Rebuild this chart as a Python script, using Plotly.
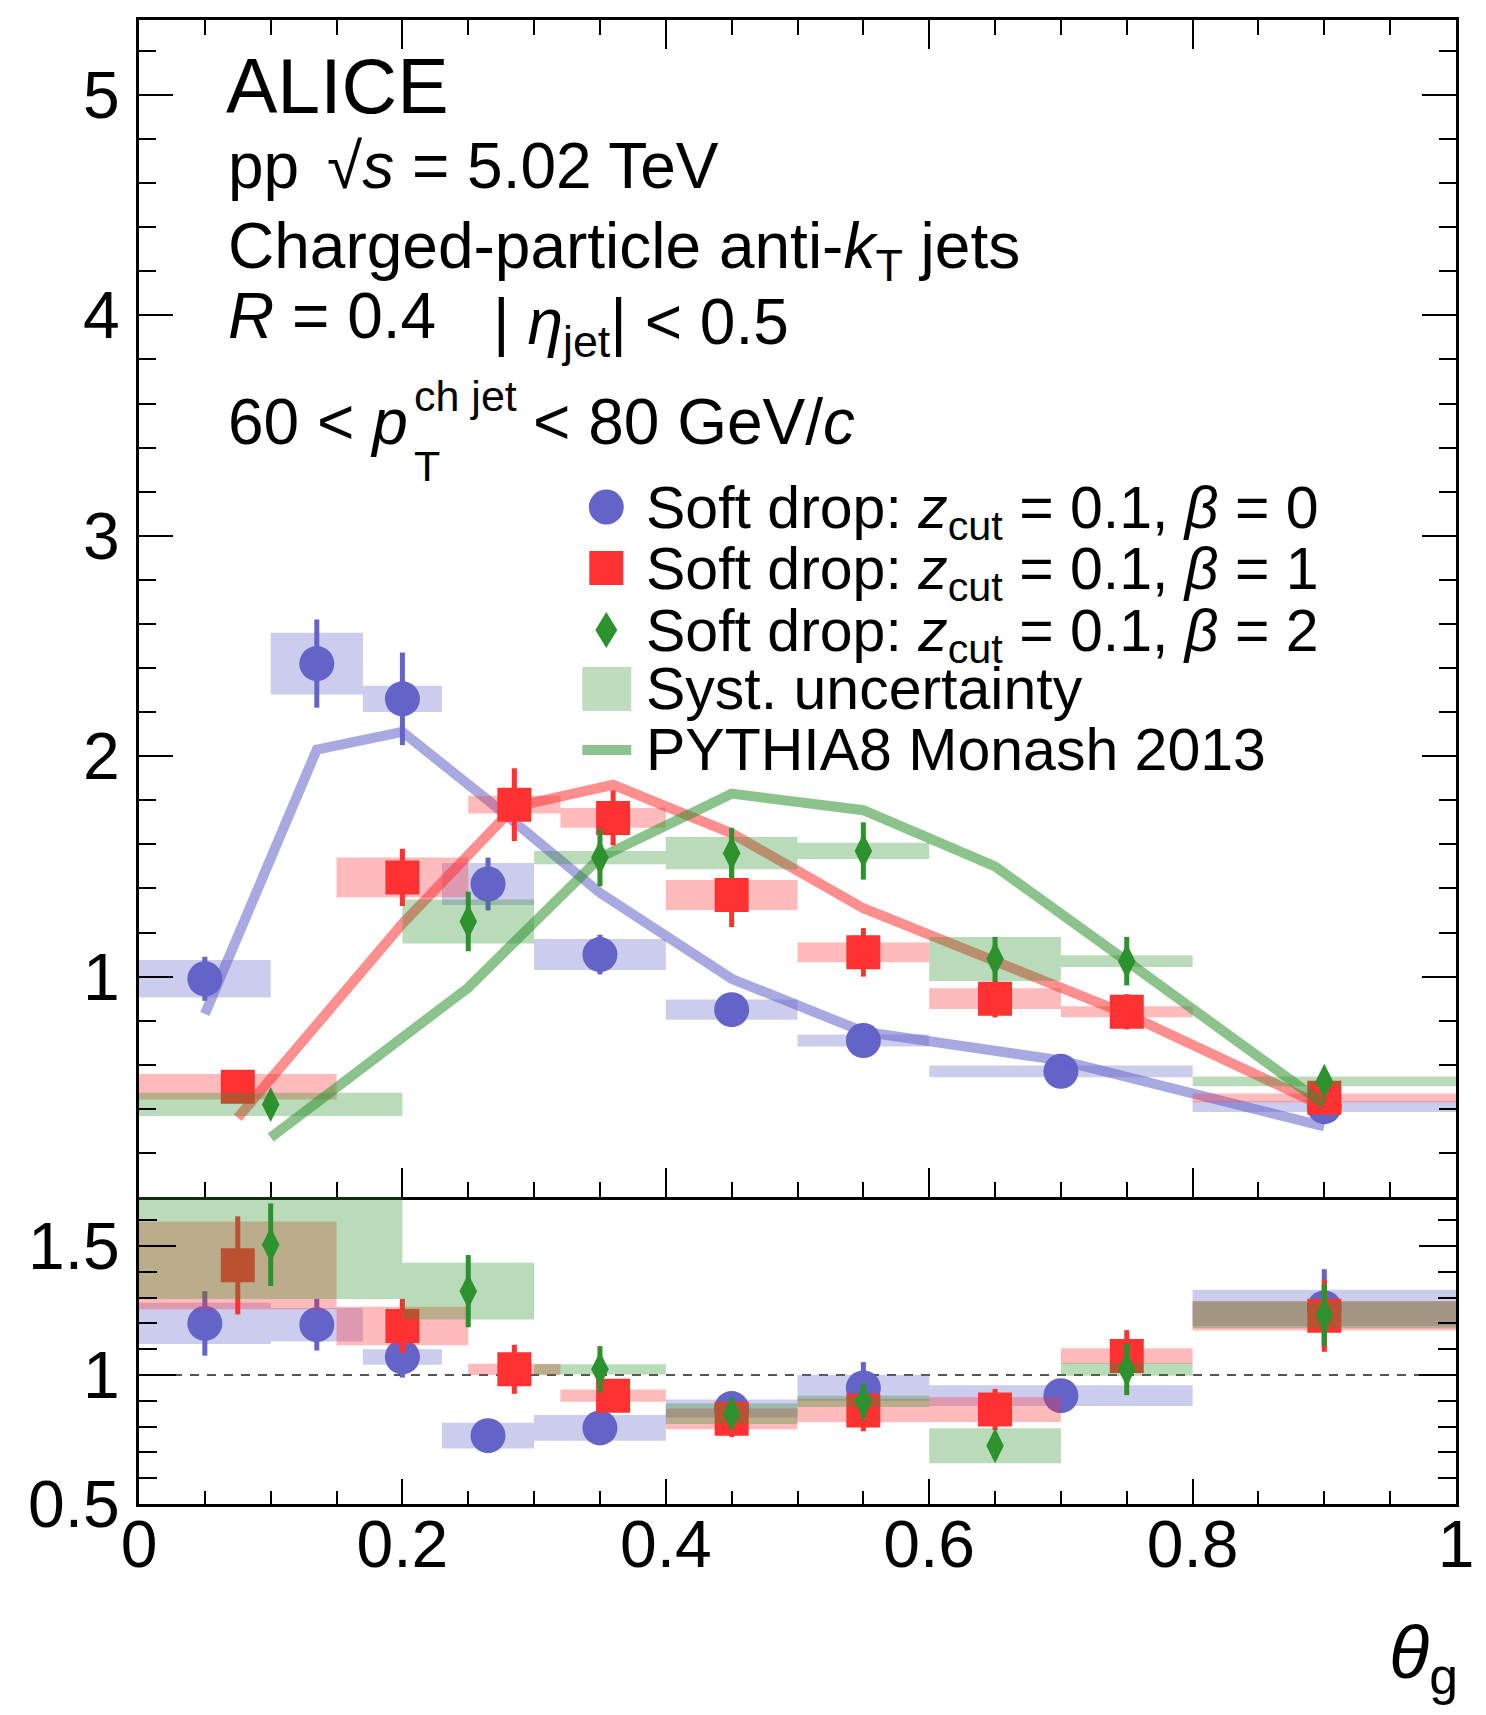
import plotly.graph_objects as go

# ---------------- data ----------------
# beta = 0 (blue)
b0_edges = [0.0, 0.1, 0.17, 0.23, 0.3, 0.4, 0.5, 0.6, 0.8, 1.0]
b0_vals = [0.99, 2.42, 2.26, 1.42, 1.10, 0.85, 0.71, 0.57, 0.41]
b0_stat = [0.10, 0.20, 0.21, 0.12, 0.09, 0.03, 0.03, 0.03, 0.03]
b0_syst = [0.085, 0.14, 0.06, 0.095, 0.07, 0.046, 0.027, 0.027, 0.024]
b0_pythia = [0.83, 2.03, 2.11, 1.80, 1.38, 0.99, 0.75, 0.62, 0.32]
b0_ratio = [1.20, 1.195, 1.07, 0.765, 0.795, 0.87, 0.95, 0.92, 1.26]
b0_ratio_stat = [0.125, 0.10, 0.08, 0.03, 0.03, 0.04, 0.10, 0.05, 0.15]
b0_ratio_syst = [0.08, 0.065, 0.03, 0.05, 0.05, 0.035, 0.05, 0.04, 0.07]

# beta = 1 (red)
b1_edges = [0.0, 0.15, 0.25, 0.32, 0.4, 0.5, 0.6, 0.7, 0.8, 1.0]
b1_vals = [0.50, 1.45, 1.78, 1.72, 1.37, 1.11, 0.90, 0.84, 0.45]
b1_stat = [0.05, 0.13, 0.165, 0.125, 0.145, 0.11, 0.085, 0.08, 0.03]
b1_syst = [0.058, 0.09, 0.04, 0.045, 0.068, 0.045, 0.047, 0.025, 0.02]
b1_pythia = [0.36, 1.24, 1.77, 1.87, 1.65, 1.31, 1.07, 0.83, 0.41]
b1_ratio = [1.425, 1.19, 1.022, 0.92, 0.83, 0.862, 0.866, 1.074, 1.23]
b1_ratio_stat = [0.19, 0.105, 0.095, 0.05, 0.07, 0.08, 0.08, 0.10, 0.14]
b1_ratio_syst = [0.17, 0.075, 0.022, 0.024, 0.04, 0.045, 0.048, 0.03, 0.057]

# beta = 2 (green)
b2_edges = [0.0, 0.2, 0.3, 0.4, 0.5, 0.6, 0.7, 0.8, 1.0]
b2_vals = [0.42, 1.25, 1.54, 1.56, 1.57, 1.08, 1.07, 0.525]
b2_stat = [0.03, 0.135, 0.13, 0.115, 0.13, 0.10, 0.11, 0.03]
b2_syst = [0.053, 0.10, 0.03, 0.073, 0.037, 0.10, 0.027, 0.022]
b2_pythia = [0.27, 0.95, 1.54, 1.83, 1.755, 1.50, 1.07, 0.42]
b2_ratio = [1.505, 1.325, 1.022, 0.85, 0.898, 0.726, 1.022, 1.233]
b2_ratio_stat = [0.16, 0.14, 0.09, 0.06, 0.07, 0.05, 0.10, 0.12]
b2_ratio_syst = [0.21, 0.11, 0.02, 0.04, 0.022, 0.068, 0.025, 0.052]

x_ticks = [0, 0.2, 0.4, 0.6, 0.8, 1]
x_ticklabels = ["0", "0.2", "0.4", "0.6", "0.8", "1"]
top_yticks = [1, 2, 3, 4, 5]
bot_yticks = [0.5, 1.0, 1.5]
bot_yticklabels = ["0.5", "1", "1.5"]

series = [
    dict(name="b0", edges=b0_edges, vals=b0_vals, stat=b0_stat, syst=b0_syst, py=b0_pythia,
         r=b0_ratio, rstat=b0_ratio_stat, rsyst=b0_ratio_syst,
         rgb=(99, 99, 200), symbol="circle", size=35),
    dict(name="b1", edges=b1_edges, vals=b1_vals, stat=b1_stat, syst=b1_syst, py=b1_pythia,
         r=b1_ratio, rstat=b1_ratio_stat, rsyst=b1_ratio_syst,
         rgb=(255, 50, 50), symbol="square", size=34),
    dict(name="b2", edges=b2_edges, vals=b2_vals, stat=b2_stat, syst=b2_syst, py=b2_pythia,
         r=b2_ratio, rstat=b2_ratio_stat, rsyst=b2_ratio_syst,
         rgb=(45, 145, 45), symbol="diamond-tall", size=25),
]

# ---------------- layout geometry ----------------
W, H = 1486, 1715
ML, MR, MT, MB = 139, 28, 20, 211
PW, PH = W - ML - MR, H - MT - MB
SPLIT = 1197  # pixel row of the pad boundary


def pxx(x):
    return (x - ML) / PW


def pxy(y):
    return 1 - (y - MT) / PH


split_frac = pxy(SPLIT)
FONT = "Liberation Sans, Arial, Helvetica, sans-serif"


def rgba(c, a):
    return "rgba(%d,%d,%d,%.2f)" % (c[0], c[1], c[2], a)


def box_path(edges, vals, syst):
    xs, ys = [], []
    for i, v in enumerate(vals):
        x0, x1 = edges[i], edges[i + 1]
        lo, hi = v - syst[i], v + syst[i]
        xs += [x0, x1, x1, x0, x0, None]
        ys += [lo, lo, hi, hi, lo, None]
    return xs, ys


fig = go.Figure()

for s in series:
    centers = [(s["edges"][i] + s["edges"][i + 1]) / 2 for i in range(len(s["vals"]))]
    col = s["rgb"]
    # --- top panel ---
    bx, by = box_path(s["edges"], s["vals"], s["syst"])
    fig.add_trace(go.Scatter(x=bx, y=by, mode="none", fill="toself",
                             fillcolor=rgba(col, 0.33), showlegend=False,
                             hoverinfo="skip", xaxis="x", yaxis="y"))
    fig.add_trace(go.Scatter(x=centers, y=s["vals"], mode="markers",
                             marker=dict(symbol=s["symbol"], size=s["size"],
                                         color=rgba(col, 1), line=dict(width=0)),
                             error_y=dict(type="data", array=s["stat"], width=0,
                                          thickness=5, color=rgba(col, 1)),
                             showlegend=False, xaxis="x", yaxis="y"))
    fig.add_trace(go.Scatter(x=centers, y=s["py"], mode="lines",
                             line=dict(color=rgba(col, 0.55), width=10),
                             showlegend=False, xaxis="x", yaxis="y"))
    # --- ratio panel ---
    bx, by = box_path(s["edges"], s["r"], s["rsyst"])
    fig.add_trace(go.Scatter(x=bx, y=by, mode="none", fill="toself",
                             fillcolor=rgba(col, 0.33), showlegend=False,
                             hoverinfo="skip", xaxis="x2", yaxis="y2"))
    fig.add_trace(go.Scatter(x=centers, y=s["r"], mode="markers",
                             marker=dict(symbol=s["symbol"], size=s["size"],
                                         color=rgba(col, 1), line=dict(width=0)),
                             error_y=dict(type="data", array=s["rstat"], width=0,
                                          thickness=5, color=rgba(col, 1)),
                             showlegend=False, xaxis="x2", yaxis="y2"))

# unity line in ratio panel
fig.add_shape(type="line", xref="x2 domain", yref="y2", x0=0, x1=1, y0=1, y1=1,
              line=dict(color="#555555", width=2, dash="9px,8px"), layer="below")

tickfont = dict(family=FONT, size=66, color="black")
common_axis = dict(showline=True, linecolor="black", linewidth=3, showgrid=False,
                   zeroline=False, ticks="inside", tickcolor="black", tickwidth=2)

fig.update_layout(
    width=W, height=H, margin=dict(l=ML, r=MR, t=MT, b=MB),
    paper_bgcolor="white", plot_bgcolor="white", showlegend=False,
    font=dict(family=FONT, color="black"),
    xaxis=dict(domain=[0, 1], anchor="y", range=[0, 1], showticklabels=False,
               tickvals=x_ticks, ticklen=29, mirror="ticks",
               minor=dict(ticks="inside", ticklen=15, dtick=0.05, tick0=0,
                          tickcolor="black", tickwidth=2),
               **common_axis),
    yaxis=dict(domain=[split_frac, 1], anchor="x", range=[0, 5.34],
               tickvals=top_yticks, ticklen=34, mirror="ticks",
               tickfont=tickfont, ticklabelstandoff=3,
               minor=dict(ticks="inside", ticklen=17, dtick=0.2, tick0=0,
                          tickcolor="black", tickwidth=2),
               **common_axis),
    xaxis2=dict(domain=[0, 1], anchor="y2", range=[0, 1], matches="x",
                tickvals=x_ticks, ticktext=x_ticklabels, ticklen=25, mirror=False,
                tickfont=tickfont, ticklabelstandoff=-19,
                minor=dict(ticks="inside", ticklen=13, dtick=0.05, tick0=0,
                           tickcolor="black", tickwidth=2),
                **common_axis),
    yaxis2=dict(domain=[0, split_frac], anchor="x2", range=[0.5, 1.69],
                tickvals=bot_yticks, ticktext=bot_yticklabels, ticklen=37,
                mirror="ticks", tickfont=tickfont, ticklabelstandoff=3,
                minor=dict(ticks="inside", ticklen=18, dtick=0.1, tick0=0.5,
                           tickcolor="black", tickwidth=2),
                **common_axis),
)

# ---------------- text ----------------
def text(s, x, y, size, xanchor="left"):
    fig.add_annotation(text=s, x=pxx(x), y=pxy(y), xref="paper", yref="paper",
                       xanchor=xanchor, yanchor="middle", showarrow=False,
                       font=dict(family=FONT, size=size, color="black"))


text("ALICE", 224, 86, 77)
text("pp", 226, 166, 64)
text("√<i>s</i> = 5.02 TeV", 325, 166, 64)
text("Charged-particle anti-<i>k</i><sub>T</sub> jets", 226, 250, 64)
text("<i>R</i> = 0.4", 226, 316, 64)
text("| <i>η</i><sub>jet</sub>| < 0.5", 492, 326, 64)
text("60 < <i>p</i>", 226, 422, 64)
text("ch jet", 412, 396, 43)
text("T", 412, 466, 43)
text("< 80 GeV/<i>c</i>", 532, 422, 64)

# legend
leg_rows = [507, 568, 630, 689, 750]
leg_labels = [
    "Soft drop: <i>z</i><sub>cut</sub> = 0.1, <i>β</i> = 0",
    "Soft drop: <i>z</i><sub>cut</sub> = 0.1, <i>β</i> = 1",
    "Soft drop: <i>z</i><sub>cut</sub> = 0.1, <i>β</i> = 2",
    "Syst. uncertainty",
    "PYTHIA8 Monash 2013",
]
for yrow, lab in zip(leg_rows, leg_labels):
    off = 5 if "sub" in lab else 0
    text(lab, 645, yrow + off, 59)

LX = 607
c0, c1, c2 = series[0]["rgb"], series[1]["rgb"], series[2]["rgb"]
fig.add_shape(type="circle", xref="paper", yref="paper",
              x0=pxx(LX - 17.5), x1=pxx(LX + 17.5), y0=pxy(leg_rows[0] + 17.5),
              y1=pxy(leg_rows[0] - 17.5), fillcolor=rgba(c0, 1), line=dict(width=0))
fig.add_shape(type="rect", xref="paper", yref="paper",
              x0=pxx(LX - 17), x1=pxx(LX + 17), y0=pxy(leg_rows[1] + 17),
              y1=pxy(leg_rows[1] - 17), fillcolor=rgba(c1, 1), line=dict(width=0))
yd = leg_rows[2]
fig.add_shape(type="path", xref="paper", yref="paper",
              path="M %f %f L %f %f L %f %f L %f %f Z" % (
                  pxx(LX), pxy(yd - 18), pxx(LX + 11), pxy(yd),
                  pxx(LX), pxy(yd + 18), pxx(LX - 11), pxy(yd)),
              fillcolor=rgba(c2, 1), line=dict(width=0))
fig.add_shape(type="rect", xref="paper", yref="paper",
              x0=pxx(583), x1=pxx(632), y0=pxy(leg_rows[3] + 22),
              y1=pxy(leg_rows[3] - 22), fillcolor=rgba(c2, 0.31), line=dict(width=0))
fig.add_shape(type="line", xref="paper", yref="paper",
              x0=pxx(583), x1=pxx(632), y0=pxy(leg_rows[4]), y1=pxy(leg_rows[4]),
              line=dict(color=rgba(c2, 0.55), width=10))

# x-axis title
fig.add_annotation(text="<i>θ</i><sub>g</sub>", x=pxx(1462), y=pxy(1658),
                   xref="paper", yref="paper", xanchor="right", yanchor="middle",
                   showarrow=False, font=dict(family=FONT, size=74, color="black"))

fig.write_html("out.html")
